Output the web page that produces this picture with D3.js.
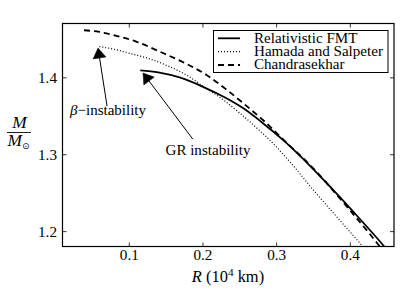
<!DOCTYPE html>
<html>
<head>
<meta charset="utf-8">
<script src="https://cdn.jsdelivr.net/npm/d3@7"></script>
<style>
html,body{margin:0;padding:0;background:#fff;}
svg{display:block;}
text{font-family:"Liberation Serif","DejaVu Serif",serif;fill:#000;}
</style>
</head>
<body>
<svg id="chart" width="415" height="305"></svg>
<script>
// ---- data (R in 10^4 km, M in solar masses) ----
const fmtR = [0.1156,0.14,0.17,0.20,0.23,0.255,0.28,0.31,0.347,0.37,0.404,0.445,0.452];
const fmtM = [1.409,1.4065,1.3995,1.388,1.374,1.360,1.342,1.318,1.284,1.261,1.226,1.182,1.174];
const hsR = [0.06,0.08,0.10,0.13,0.155,0.18,0.20,0.225,0.25,0.275,0.30,0.325,0.35,0.38,0.414,0.422];
const hsM = [1.440,1.4365,1.4315,1.4235,1.414,1.402,1.389,1.373,1.354,1.333,1.310,1.283,1.254,1.221,1.184,1.175];
const chR = [0.0392,0.06,0.0785,0.11,0.1423,0.175,0.2057,0.23,0.255,0.285,0.3145,0.346,0.3964,0.4369,0.444];
const chM = [1.4612,1.4590,1.455,1.4465,1.4333,1.419,1.403,1.386,1.3666,1.342,1.3146,1.286,1.2314,1.1846,1.176];
const seriesNames = ["Relativistic FMT","Hamada and Salpeter","Chandrasekhar"];
const xTicks = [0.1,0.2,0.3,0.4];
const yTicks = [1.2,1.3,1.4];
const xDomain = [0.01,0.46];
const yDomain = [1.18,1.47];
// annotations
const annoText = ["β−instability","GR instability"];
const annoTextPos = [[0.0718,1.351],[0.2075,1.299]];
const annoTail = [[0.0705,1.3625],[0.187,1.3195]];
const annoTip = [[0.0582,1.4381],[0.1193,1.4056]];

// ---- helpers ----
function fitFont(sel, target){
  sel.style("font-size","20px");
  const w = sel.node().getComputedTextLength();
  sel.style("font-size",(20*target/w).toFixed(2)+"px");
}

// ---- layout ----
const L=62.5, R=394, T=23.5, B=246.5;
const svg = d3.select("#chart");
const x = d3.scaleLinear().domain(xDomain).range([L,R]);
const y = d3.scaleLinear().domain(yDomain).range([B,T]);

svg.append("defs").append("clipPath").attr("id","clip")
  .append("rect").attr("x",L).attr("y",T).attr("width",R-L).attr("height",B-T);

const styles = [
  {w:1.8, dash:null},
  {w:1.2, dash:"1,2"},
  {w:1.8, dash:"6,4"}
];
const data = [
  fmtR.map((r,i)=>[r,fmtM[i]]),
  hsR.map((r,i)=>[r,hsM[i]]),
  chR.map((r,i)=>[r,chM[i]])
];
const line = d3.line().x(d=>x(d[0])).y(d=>y(d[1])).curve(d3.curveMonotoneX);
const g = svg.append("g").attr("clip-path","url(#clip)");
data.forEach((d,i)=>{
  g.append("path").attr("d",line(d)).attr("fill","none").attr("stroke","#000")
   .attr("stroke-width",styles[i].w).attr("stroke-dasharray",styles[i].dash);
});

// measure a reference tick label to size tick fonts
const probe = svg.append("text").text("1.4");
fitFont(probe, 19);
const tickFont = probe.style("font-size");
probe.remove();

// ---- axes (ticks inward on all sides) ----
const tl = 4;
const axB = svg.append("g").attr("transform",`translate(0,${B})`)
  .call(d3.axisBottom(x).tickValues(xTicks).tickSize(-tl).tickPadding(7).tickFormat(d3.format(".1f")));
const axT = svg.append("g").attr("transform",`translate(0,${T})`)
  .call(d3.axisTop(x).tickValues(xTicks).tickSize(-tl).tickFormat(""));
const axL = svg.append("g").attr("transform",`translate(${L},0)`)
  .call(d3.axisLeft(y).tickValues(yTicks).tickSize(-tl).tickPadding(5.5).tickFormat(d3.format(".1f")));
const axRt = svg.append("g").attr("transform",`translate(${R},0)`)
  .call(d3.axisRight(y).tickValues(yTicks).tickSize(-tl).tickFormat(""));
[axB,axT,axL,axRt].forEach(a=>{
  a.select(".domain").remove();
  a.selectAll(".tick line").attr("stroke","#000").attr("stroke-width",0.8);
  a.selectAll(".tick text").attr("font-family",null).attr("font-size",null)
    .style("font-size",tickFont).attr("fill","#000");
});
axB.selectAll(".tick text").attr("dy",null).attr("y",13.8);
axL.selectAll(".tick text").attr("dy","0.36em");
svg.append("rect").attr("x",L).attr("y",T).attr("width",R-L).attr("height",B-T)
  .attr("fill","none").attr("stroke","#000").attr("stroke-width",1.2);

// ---- legend ----
const lg = svg.append("g");
lg.append("rect").attr("x",213.5).attr("y",30.5).attr("width",174.5).attr("height",42)
  .attr("fill","#fff").attr("stroke","#000").attr("stroke-width",1);
const legTexts = [];
seriesNames.forEach((n,i)=>{
  const cy = 38.3 + i*13.35;
  lg.append("line").attr("x1",218).attr("x2",240).attr("y1",cy).attr("y2",cy)
    .attr("stroke","#000").attr("stroke-width",styles[i].w).attr("stroke-dasharray",styles[i].dash);
  legTexts.push(lg.append("text").attr("x",254).attr("y",cy+4.2).text(n));
});
fitFont(legTexts[1], 129);
const legFont = legTexts[1].style("font-size");
legTexts.forEach(t=>t.style("font-size",legFont));

// ---- annotations ----
const annoTargets = [76, 85];
annoText.forEach((t,i)=>{
  const tx = svg.append("text").attr("x",x(annoTextPos[i][0])).attr("y",y(annoTextPos[i][1]))
    .attr("text-anchor","middle");
  if(i===0){
    tx.append("tspan").style("font-style","italic").text("β");
    tx.append("tspan").text("−instability");
  } else tx.text(t);
  fitFont(tx, annoTargets[i]);
  const x0=x(annoTail[i][0]), y0=y(annoTail[i][1]), x1=x(annoTip[i][0]), y1=y(annoTip[i][1]);
  const dx=x1-x0, dy=y1-y0, len=Math.hypot(dx,dy), ux=dx/len, uy=dy/len;
  const hl=10, hw=6.5;
  const bx=x1-ux*hl, by=y1-uy*hl;
  svg.append("line").attr("x1",x0).attr("y1",y0).attr("x2",bx).attr("y2",by)
    .attr("stroke","#000").attr("stroke-width",1);
  svg.append("path").attr("d",`M${x1},${y1}L${bx-uy*hw},${by+ux*hw}L${bx+uy*hw},${by-ux*hw}Z`)
    .attr("fill","#000").attr("stroke","#000").attr("stroke-width",0.5);
});

// ---- axis labels ----
const xl = svg.append("text").attr("x",228).attr("y",282).attr("text-anchor","middle");
xl.append("tspan").style("font-style","italic").text("R");
xl.append("tspan").text(" (10");
const sup = xl.append("tspan").attr("dy","-6").text("4");
xl.append("tspan").attr("dy","6").text(" km)");
fitFont(xl, 75);
const xlSize = parseFloat(xl.style("font-size"));
sup.style("font-size",(xlSize*0.68).toFixed(2)+"px");

const yl = svg.append("g");
const num = yl.append("text").attr("x",19.5).attr("y",128).attr("text-anchor","middle")
  .style("font-style","italic").text("M");
fitFont(num, 14.5);
yl.append("line").attr("x1",7).attr("x2",31).attr("y1",132.5).attr("y2",132.5)
  .attr("stroke","#000").attr("stroke-width",0.9);
const yd = yl.append("text").attr("x",7.5).attr("y",146).style("font-size",num.style("font-size"));
yd.append("tspan").style("font-style","italic").text("M");
yd.append("tspan").attr("dy","2.5").style("font-size","9px").style("font-family","DejaVu Sans").text("⊙");
</script>
</body>
</html>
